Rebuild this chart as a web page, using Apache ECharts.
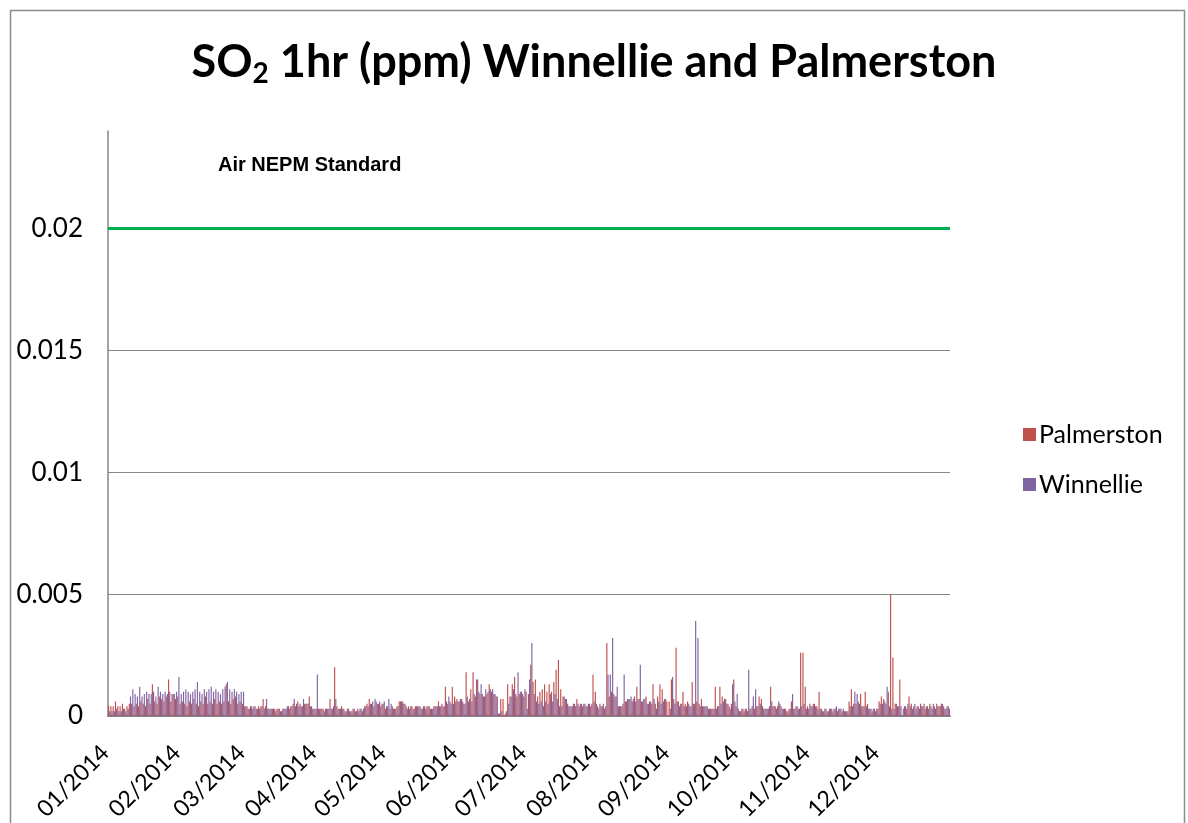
<!DOCTYPE html>
<html><head><meta charset="utf-8">
<script src="https://cdn.jsdelivr.net/npm/echarts@6/dist/echarts.min.js"></script>
<style>html,body{margin:0;padding:0;background:#fff}#c{width:1188px;height:823px}</style>
</head><body><div id="c"></div>
<script>
const monthLabels = ['01/2014','02/2014','03/2014','04/2014','05/2014','06/2014','07/2014','08/2014','09/2014','10/2014','11/2014','12/2014'];
const daysInMonth = [31,28,31,30,31,30,31,31,30,31,30,31];
const yMax = 0.024;
const yInterval = 0.005;
const nepmStandard = 0.02;
const seriesNames = ['Palmerston','Winnellie'];

// daily 1hr SO2 maxima (ppm)
const palmerston = [
 4e-4,4e-4,4e-4,6e-4,4e-4,4e-4,5e-4,3e-4,4e-4,5e-4,5e-4,4e-4,5e-4,4e-4,6e-4,5e-4,4e-4,7e-4,5e-4,13e-4,6e-4,5e-4,8e-4,7e-4,6e-4,8e-4,15e-4,6e-4,9e-4,7e-4,8e-4,
 5e-4,6e-4,5e-4,4e-4,6e-4,5e-4,7e-4,5e-4,4e-4,6e-4,5e-4,8e-4,5e-4,6e-4,5e-4,7e-4,5e-4,6e-4,5e-4,6e-4,13e-4,6e-4,5e-4,7e-4,8e-4,5e-4,6e-4,5e-4,
 4e-4,4e-4,3e-4,4e-4,4e-4,3e-4,4e-4,4e-4,7e-4,4e-4,3e-4,3e-4,3e-4,3e-4,3e-4,3e-4,2e-4,3e-4,3e-4,4e-4,4e-4,5e-4,4e-4,6e-4,5e-4,4e-4,5e-4,5e-4,8e-4,4e-4,3e-4,
 3e-4,3e-4,3e-4,3e-4,3e-4,3e-4,7e-4,3e-4,20e-4,4e-4,3e-4,4e-4,3e-4,2e-4,3e-4,2e-4,3e-4,2e-4,3e-4,3e-4,2e-4,4e-4,5e-4,7e-4,5e-4,4e-4,6e-4,5e-4,4e-4,5e-4,
 3e-4,4e-4,3e-4,4e-4,3e-4,4e-4,6e-4,6e-4,5e-4,4e-4,4e-4,4e-4,3e-4,4e-4,4e-4,4e-4,3e-4,4e-4,4e-4,4e-4,3e-4,4e-4,4e-4,6e-4,4e-4,4e-4,12e-4,5e-4,6e-4,12e-4,8e-4,
 7e-4,6e-4,7e-4,5e-4,18e-4,6e-4,11e-4,18e-4,8e-4,15e-4,9e-4,9e-4,8e-4,9e-4,13e-4,10e-4,9e-4,8e-4,1e-4,7e-4,7e-4,1e-4,13e-4,8e-4,13e-4,16e-4,8e-4,9e-4,10e-4,8e-4,
 10e-4,9e-4,21e-4,14e-4,15e-4,8e-4,10e-4,11e-4,13e-4,10e-4,13e-4,10e-4,14e-4,19e-4,23e-4,11e-4,8e-4,7e-4,5e-4,4e-4,4e-4,5e-4,7e-4,4e-4,5e-4,5e-4,4e-4,5e-4,4e-4,17e-4,10e-4,
 4e-4,5e-4,4e-4,3e-4,30e-4,8e-4,10e-4,9e-4,8e-4,4e-4,4e-4,5e-4,6e-4,7e-4,7e-4,6e-4,8e-4,12e-4,7e-4,6e-4,7e-4,8e-4,5e-4,6e-4,13e-4,5e-4,8e-4,13e-4,11e-4,7e-4,6e-4,
 6e-4,15e-4,7e-4,28e-4,6e-4,5e-4,10e-4,5e-4,6e-4,4e-4,14e-4,5e-4,6e-4,5e-4,7e-4,4e-4,4e-4,3e-4,3e-4,3e-4,12e-4,4e-4,12e-4,8e-4,7e-4,5e-4,4e-4,5e-4,15e-4,4e-4,
 3e-4,2e-4,3e-4,3e-4,2e-4,3e-4,4e-4,3e-4,4e-4,8e-4,7e-4,3e-4,3e-4,3e-4,12e-4,4e-4,4e-4,4e-4,5e-4,3e-4,3e-4,2e-4,3e-4,6e-4,3e-4,4e-4,3e-4,26e-4,26e-4,12e-4,4e-4,
 5e-4,4e-4,5e-4,4e-4,10e-4,3e-4,2e-4,3e-4,2e-4,3e-4,2e-4,3e-4,2e-4,3e-4,2e-4,2e-4,2e-4,6e-4,11e-4,5e-4,5e-4,6e-4,9e-4,4e-4,10e-4,5e-4,3e-4,2e-4,3e-4,3e-4,
 6e-4,8e-4,7e-4,5e-4,10e-4,50e-4,24e-4,5e-4,4e-4,15e-4,-1e-4,4e-4,3e-4,8e-4,5e-4,4e-4,3e-4,4e-4,5e-4,4e-4,3e-4,4e-4,5e-4,3e-4,4e-4,5e-4,4e-4,5e-4,4e-4,3e-4,4e-4
];
const winnellie = [
 2e-4,2e-4,2e-4,3e-4,2e-4,2e-4,3e-4,2e-4,3e-4,8e-4,11e-4,9e-4,8e-4,12e-4,8e-4,9e-4,10e-4,9e-4,9e-4,10e-4,8e-4,12e-4,10e-4,9e-4,10e-4,9e-4,10e-4,9e-4,9e-4,10e-4,16e-4,
 9e-4,10e-4,11e-4,10e-4,9e-4,10e-4,11e-4,14e-4,10e-4,9e-4,11e-4,10e-4,11e-4,12e-4,10e-4,11e-4,10e-4,9e-4,11e-4,12e-4,14e-4,11e-4,10e-4,11e-4,10e-4,9e-4,10e-4,10e-4,
 4e-4,3e-4,4e-4,3e-4,4e-4,3e-4,3e-4,4e-4,3e-4,7e-4,3e-4,3e-4,3e-4,2e-4,3e-4,2e-4,3e-4,3e-4,4e-4,3e-4,4e-4,7e-4,5e-4,4e-4,4e-4,7e-4,5e-4,5e-4,4e-4,3e-4,3e-4,
 17e-4,3e-4,3e-4,2e-4,3e-4,3e-4,3e-4,4e-4,7e-4,3e-4,3e-4,3e-4,2e-4,3e-4,2e-4,2e-4,3e-4,2e-4,2e-4,3e-4,3e-4,4e-4,4e-4,5e-4,6e-4,7e-4,5e-4,6e-4,5e-4,6e-4,
 4e-4,7e-4,5e-4,3e-4,3e-4,4e-4,6e-4,6e-4,5e-4,3e-4,3e-4,4e-4,3e-4,4e-4,4e-4,3e-4,4e-4,3e-4,4e-4,3e-4,3e-4,4e-4,4e-4,4e-4,5e-4,4e-4,6e-4,8e-4,5e-4,5e-4,6e-4,
 6e-4,7e-4,6e-4,5e-4,8e-4,7e-4,6e-4,9e-4,15e-4,10e-4,13e-4,8e-4,11e-4,10e-4,11e-4,11e-4,9e-4,8e-4,1e-4,2e-4,-0.5e-4,2e-4,5e-4,8e-4,11e-4,9e-4,18e-4,10e-4,9e-4,11e-4,
 3e-4,15e-4,30e-4,9e-4,6e-4,5e-4,6e-4,4e-4,6e-4,5e-4,9e-4,6e-4,9e-4,7e-4,4e-4,4e-4,8e-4,7e-4,4e-4,4e-4,5e-4,4e-4,5e-4,5e-4,4e-4,5e-4,4e-4,5e-4,5e-4,6e-4,5e-4,
 3e-4,4e-4,5e-4,4e-4,17e-4,17e-4,32e-4,8e-4,12e-4,4e-4,4e-4,17e-4,6e-4,7e-4,8e-4,7e-4,6e-4,7e-4,21e-4,6e-4,7e-4,5e-4,6e-4,5e-4,7e-4,3e-4,6e-4,5e-4,6e-4,7e-4,-0.5e-4,
 3e-4,16e-4,5e-4,6e-4,4e-4,5e-4,4e-4,4e-4,5e-4,4e-4,5e-4,39e-4,32e-4,4e-4,4e-4,4e-4,4e-4,3e-4,3e-4,3e-4,3e-4,4e-4,5e-4,6e-4,7e-4,5e-4,3e-4,13e-4,6e-4,9e-4,
 2e-4,3e-4,2e-4,3e-4,19e-4,3e-4,8e-4,11e-4,4e-4,5e-4,4e-4,3e-4,3e-4,4e-4,6e-4,4e-4,3e-4,6e-4,4e-4,3e-4,3e-4,2e-4,3e-4,9e-4,3e-4,4e-4,3e-4,4e-4,5e-4,3e-4,3e-4,
 4e-4,5e-4,4e-4,3e-4,3e-4,2e-4,3e-4,2e-4,3e-4,3e-4,3e-4,4e-4,3e-4,3e-4,3e-4,2e-4,2e-4,4e-4,4e-4,10e-4,9e-4,5e-4,4e-4,4e-4,4e-4,3e-4,3e-4,3e-4,2e-4,3e-4,
 5e-4,5e-4,6e-4,12e-4,4e-4,3e-4,3e-4,5e-4,4e-4,4e-4,3e-4,4e-4,5e-4,4e-4,3e-4,5e-4,4e-4,3e-4,4e-4,5e-4,4e-4,3e-4,4e-4,5e-4,3e-4,4e-4,4e-4,5e-4,3e-4,4e-4,3e-4
];

// one category per day, labelled at the first day of each month
const categories = [];
const monthOfFirstDay = {};
monthLabels.forEach((m, i) => {
  for (let d = 1; d <= daysInMonth[i]; d++) {
    const key = m + '-' + d;
    if (d === 1) monthOfFirstDay[key] = m;
    categories.push(key);
  }
});

const chart = echarts.init(document.getElementById('c'), null, {renderer: 'canvas'});
const gridGray = '#868686';
chart.setOption({
  animation: false,
  backgroundColor: '#ffffff',
  title: {
    text: '{a|SO}{s|2}{a| 1hr (ppm) Winnellie and Palmerston}',
    left: 'center', top: 29,
    textStyle: {
      rich: {
        a: {fontFamily: 'Lato', fontWeight: 'bold', fontSize: 45, color: '#000', lineHeight: 56},
        s: {fontFamily: 'Lato', fontWeight: 'bold', fontSize: 28, color: '#000', lineHeight: 56, padding: [24, 0, 0, 0]}
      }
    }
  },
  legend: {
    orient: 'vertical', left: 1018, top: 417,
    itemWidth: 13, itemHeight: 13, itemGap: 25, icon: 'rect',
    data: seriesNames,
    textStyle: {fontFamily: 'Lato', fontSize: 25, color: '#000', padding: [0, 0, 0, -2]}
  },
  grid: {left: 108, right: 238, top: 131, bottom: 107, containLabel: false, outerBoundsMode: 'none'},
  xAxis: {
    type: 'category', data: categories, boundaryGap: true,
    axisLine: {lineStyle: {color: gridGray, width: 2}},
    axisTick: {show: false},
    splitLine: {show: false},
    axisLabel: {
      interval: (i, v) => monthOfFirstDay[v] !== undefined,
      formatter: v => monthOfFirstDay[v] || '',
      rotate: 45, margin: 13, verticalAlign: 'top', padding: [0, 17, 0, 0],
      fontFamily: 'Lato', fontSize: 23, color: '#000'
    }
  },
  yAxis: {
    type: 'value', min: 0, max: yMax, interval: yInterval,
    axisLine: {show: true, lineStyle: {color: gridGray, width: 1.5}},
    axisTick: {show: false},
    splitLine: {show: true, lineStyle: {color: [gridGray, gridGray, gridGray, gridGray, gridGray, 'rgba(0,0,0,0)'], width: 1}},
    axisLabel: {showMaxLabel: false, margin: 25, fontFamily: 'Lato', fontSize: 26, color: '#000'}
  },
  series: [
    {
      name: seriesNames[0], type: 'bar', data: palmerston,
      barGap: '0%', barCategoryGap: '0%',
      itemStyle: {color: '#C0504D'},
      markLine: {
        silent: true, symbol: 'none', label: {show: false},
        lineStyle: {color: '#00B050', width: 3, type: 'solid'},
        data: [{yAxis: nepmStandard}]
      }
    },
    {
      name: seriesNames[1], type: 'bar', data: winnellie,
      barGap: '0%', barCategoryGap: '0%',
      itemStyle: {color: '#8064A2'}
    }
  ],
  graphic: [
    {type: 'rect', left: 8, top: 8, shape: {width: 1174, height: 840}, style: {fill: 'none', stroke: '#8c8c8c', lineWidth: 1.5}, silent: true, z: 0},
    {type: 'text', left: 218, top: 155, style: {text: 'Air NEPM Standard', fontFamily: 'Liberation Sans', fontWeight: 'bold', fontSize: 20, fill: '#000'}}
  ]
});
</script></body></html>
